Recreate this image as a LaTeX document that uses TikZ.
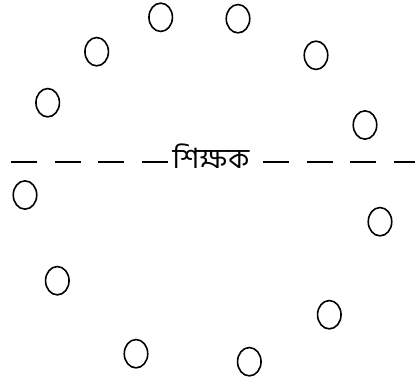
\documentclass[tikz,border=0pt]{standalone}
\usepackage{fontspec}
\newfontfamily\bnfont[Script=Bengali]{Hind Siliguri}
\usepackage{tikz}
\usetikzlibrary{shapes.geometric}

\begin{document}
\begin{tikzpicture}[
  x=1pt, y=-1pt,
  seat/.style={ellipse, draw, line width=1.6pt, inner sep=0pt, minimum width=23.5pt, minimum height=28.3pt},
  board/.style={font=\bnfont\fontsize{28}{32}\selectfont, inner sep=0pt},
  divide/.style={line width=1.6pt, dash pattern=on 26pt off 17.5pt},
]
  \useasboundingbox (0,0) rectangle (415,383);
  % seats round the teacher
  \foreach \px/\py [count=\i] in {160.7/17.3, 238/18.7, 96.7/51.7, 316/55.3, 47.7/102.7, 365/125,
      25/195, 380/221.7, 57.3/280.7, 329.3/314.7, 136/353.7, 249.3/361.7}
    \node[seat] (s\i) at (\px,\py) {};

  \node[board] (teacher) at (211,156) {শিক্ষক};
  \coordinate (lend) at (0,161.7);
  \coordinate (rend) at (415,161.7);
  \draw[divide] ([xshift=-5pt]teacher.west |- lend) -- (lend);
  \draw[divide] ([xshift=14pt]teacher.east |- rend) -- (rend);
\end{tikzpicture}
\end{document}
